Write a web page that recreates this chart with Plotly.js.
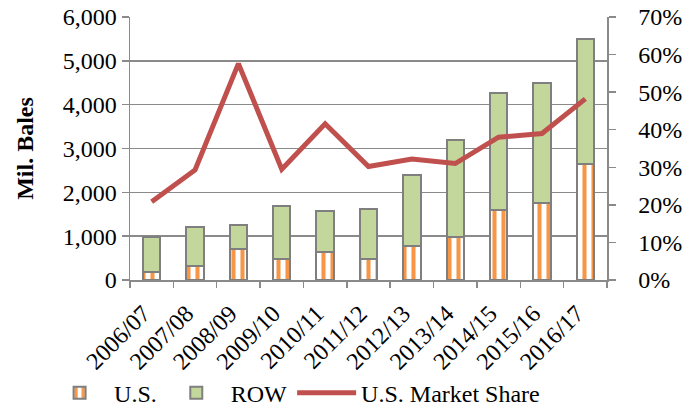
<!DOCTYPE html>
<html>
<head>
<meta charset="utf-8">
<script src="https://cdn.plot.ly/plotly-3.0.1.min.js"></script>
<style>html,body{margin:0;padding:0;background:#fff;}#chart{width:691px;height:411px;}</style>
</head>
<body>
<div id="chart"></div>
<script>
const categories = ["2006/07","2007/08","2008/09","2009/10","2010/11","2011/12","2012/13","2013/14","2014/15","2015/16","2016/17"];
const usValues = [190, 330, 700, 475, 650, 475, 770, 990, 1600, 1750, 2640];
const rowValues = [785, 875, 560, 1215, 915, 1145, 1635, 2205, 2675, 2750, 2850];
const usShare = [20.8, 29.3, 57.6, 29.5, 41.6, 30.2, 32.2, 31.0, 38.0, 39.0, 48.2];
const leftTicks = [0, 1000, 2000, 3000, 4000, 5000, 6000];
const leftTickLabels = ["0", "1,000", "2,000", "3,000", "4,000", "5,000", "6,000"];
const rightTicks = [0, 10, 20, 30, 40, 50, 60, 70];
const rightTickLabels = ["0%", "10%", "20%", "30%", "40%", "50%", "60%", "70%"];

const FONT = "Liberation Serif";
const GRID = "#8a8a8a";
const TF = {family: FONT, size: 24, color: "#000000"};
const NB = "\u00a0";

const traces = [
  {
    type: "bar", name: "U.S.", x: categories, y: usValues,
    width: 0.4,
    marker: {
      color: "#ffffff",
      pattern: {shape: "|", fgcolor: "#f79646", bgcolor: "#ffffff", size: 9, solidity: 0.45, fillmode: "replace"},
      line: {color: "#7f7f7f", width: 2}
    },
    hoverinfo: "skip"
  },
  {
    type: "bar", name: "ROW", x: categories, y: rowValues,
    width: 0.4,
    marker: {color: "#c3d69b", line: {color: "#7f7f7f", width: 2}},
    hoverinfo: "skip"
  },
  {
    type: "scatter", mode: "lines", name: "U.S. Market Share", x: categories, y: usShare,
    yaxis: "y2",
    line: {color: "#c0504d", width: 5},
    hoverinfo: "skip"
  }
];

const layout = {
  width: 691, height: 411,
  margin: {l: 130, r: 84, t: 17, b: 131, autoexpand: false},
  paper_bgcolor: "#ffffff", plot_bgcolor: "#ffffff",
  font: TF,
  barmode: "stack",
  showlegend: true,
  legend: {
    orientation: "h", x: -0.178, xanchor: "left", y: -0.43, yanchor: "middle",
    font: TF,
    traceorder: "normal", itemwidth: 59
  },
  xaxis: {
    type: "category",
    showline: true, linecolor: GRID, linewidth: 1.5,
    ticks: "outside", tickson: "boundaries", ticklen: 6, tickcolor: GRID, tickwidth: 1.5,
    tickmode: "array", tickvals: categories, ticktext: categories.map(c => c + NB + NB),
    tickangle: -45, showgrid: false,
    tickfont: TF,
    fixedrange: true
  },
  yaxis: {
    range: [0, 6000], tickmode: "array", tickvals: leftTicks, ticktext: leftTickLabels,
    showline: true, linecolor: GRID, linewidth: 1.5,
    ticks: "outside", ticklen: 7, tickcolor: GRID, tickwidth: 1.5,
    showgrid: true, gridcolor: GRID, gridwidth: 1.5,
    zeroline: false,
    tickfont: TF,
    title: {text: "<b>Mil. Bales</b>", font: TF, standoff: 22},
    fixedrange: true
  },
  yaxis2: {
    overlaying: "y", side: "right",
    range: [0, 70], tickmode: "array", tickvals: rightTicks, ticktext: rightTickLabels.map(t => NB + NB + NB + t),
    showline: true, linecolor: GRID, linewidth: 1.5,
    ticks: "outside", ticklen: 7, tickcolor: GRID, tickwidth: 1.5,
    showgrid: false, zeroline: false,
    tickfont: TF,
    fixedrange: true
  }
};

Plotly.newPlot("chart", traces, layout, {displayModeBar: false, staticPlot: true});
</script>
</body>
</html>
